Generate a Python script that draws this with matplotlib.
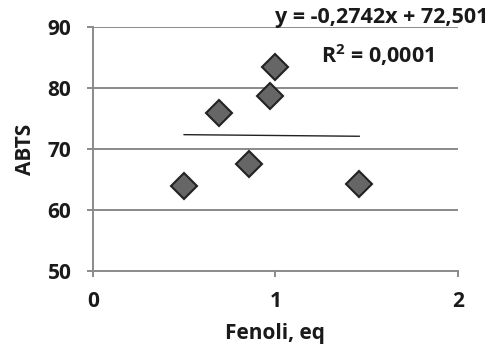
import matplotlib
matplotlib.use("Agg")
import matplotlib.pyplot as plt
import numpy as np

# data
fenoli = [0.50, 0.69, 0.855, 0.97, 1.0, 1.46]
abts = [63.9, 76.0, 67.5, 78.7, 83.5, 64.3]

# trendline from the printed equation
slope = -0.2742
intercept = 72.501
r2_text = "0,0001"

x_ticks = [0, 1, 2]
y_ticks = [50, 60, 70, 80, 90]

plt.rcParams['font.family'] = ['Open Sans', 'DejaVu Sans']
plt.rcParams['font.weight'] = 'bold'
plt.rcParams['mathtext.fontset'] = 'custom'
plt.rcParams['mathtext.bf'] = 'Open Sans:bold'

fig = plt.figure(figsize=(4.89, 3.47), dpi=100)
ax = fig.add_axes([0.190, 0.220, 0.746, 0.701])

grid_col = '#8a8a8a'
txt_col = '#1a1a1a'
for yv in y_ticks[1:]:
    ax.axhline(yv, color=grid_col, lw=1.4, zorder=1)

# trendline over the data range
xs = np.array([min(fenoli), max(fenoli)])
ax.plot(xs, slope * xs + intercept, color='#222222', lw=1.0, zorder=2)

ax.plot(fenoli, abts, linestyle='none', marker='D', markersize=13.5,
        markerfacecolor='#666666', markeredgecolor='#222222',
        markeredgewidth=1.5, zorder=3)

ax.set_xlim(0, 2)
ax.set_ylim(50, 90)
ax.set_xticks(x_ticks)
ax.set_yticks(y_ticks)
ax.tick_params(axis='both', colors=grid_col, labelcolor=txt_col,
               labelsize=15, length=4.5, width=1.4, direction='out')
ax.tick_params(axis='x', pad=10)
ax.tick_params(axis='y', pad=11)
for lab in ax.get_xticklabels() + ax.get_yticklabels():
    lab.set_fontweight('bold')
for s in ['top', 'right']:
    ax.spines[s].set_visible(False)
for s in ['left', 'bottom']:
    ax.spines[s].set_color(grid_col)
    ax.spines[s].set_linewidth(1.4)

ax.set_xlabel('Fenoli, eq', fontsize=15, fontweight='bold', color=txt_col,
              labelpad=8)
ax.set_ylabel('ABTS', fontsize=15, fontweight='bold', color=txt_col,
              labelpad=8)

eq = "y = -0,2742x + 72,501"
fig.text(488 / 489, 1 - 17 / 347, eq, ha='right', va='center',
         fontsize=15.5, fontweight='bold', color=txt_col)
fig.text(378 / 489, 1 - 55 / 347, "R$\\mathbf{^2}$ = " + r2_text,
         ha='center', va='center', fontsize=15.5, fontweight='bold',
         color=txt_col)

fig.savefig('out.png', dpi=100)
